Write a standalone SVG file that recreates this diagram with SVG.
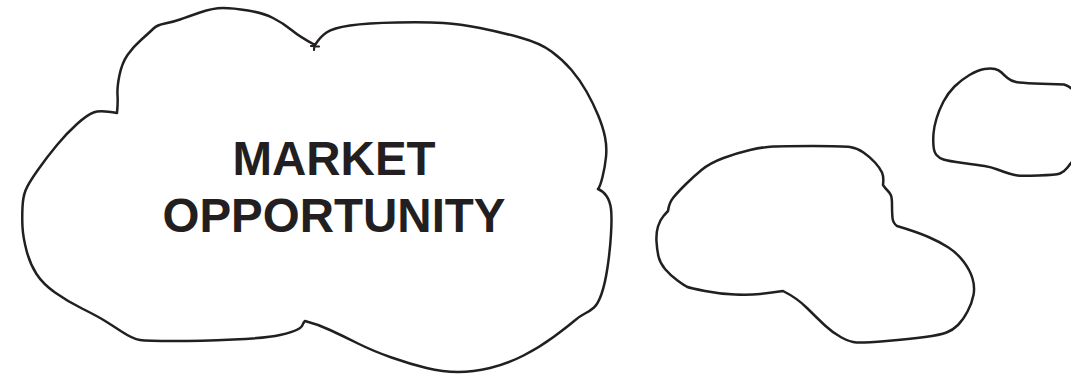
<svg xmlns="http://www.w3.org/2000/svg" width="1071" height="374" viewBox="0 0 1071 374">
  <style>
    .cloud { fill: #ffffff; stroke: #231f20; stroke-width: 2.5; stroke-linejoin: round; stroke-linecap: round; }
    .mark { fill: none; stroke: #231f20; stroke-width: 2.2; stroke-linecap: round; }
    .label { font-family: "Liberation Sans", Arial, Helvetica, sans-serif; font-weight: bold; font-size: 47.5px; fill: #231f20; text-anchor: middle; }
  </style>
  <rect width="1071" height="374" fill="#ffffff"/>

  <!-- large cloud with the label -->
  <g id="cloud-market">
    <path class="cloud" d="M117,113 Q118,103 117.5,95 Q117,87 119.5,75 Q122,63 127.5,55 Q133,47 141.5,39.5 Q150,32 153.5,28.5 Q157,25 165,23.5 Q173,22 180,19.5 Q187,17 200,12.5 Q213,8 223,8 Q233,8 248,10.5 Q263,13 273,18 Q283,23 291.5,30 Q300,37 315,45
      Q320,37 326.5,32.5 Q333,28 350,25.5 Q367,23 397,22.5 Q427,22 443.5,23 Q460,24 480,28 Q500,32 520,37.5 Q540,43 551.5,51.5 Q563,60 571.5,70 Q580,80 586.5,91.5 Q593,103 598,115 Q603,127 605,137 Q607,147 606,157 Q605,167 602.5,177 Q600,187 598,189
      Q603,191 606.5,196 Q610,201 611,209 Q612,217 611,234 Q610,251 607.5,267.5 Q605,284 601.5,294 Q598,304 594,307.5 Q590,311 585,313.5 Q580,316 573.5,321.5 Q567,327 553.5,337 Q540,347 523.5,355.5 Q507,364 490,368 Q473,372 458,372 Q443,372 426.5,368 Q410,364 391.5,357.5 Q373,351 358,343.5 Q343,336 330,330 Q317,324 305,321
      Q303,323 302.5,325 Q302,327 297.5,329.5 Q293,332 280,335 Q267,338 233.5,339.5 Q200,341 173.5,341 Q147,341 140,340 Q133,339 121.5,331.5 Q110,324 103.5,320 Q97,316 82,308.5 Q67,301 55,292.5 Q43,284 36.5,274 Q30,264 26.5,250.5 Q23,237 22.5,227 Q22,217 22.5,207 Q23,197 25.5,190.5 Q28,184 37.5,170.5 Q47,157 57,145 Q67,133 77,124 Q87,115 93.5,112.5 Q100,110 117,113 Z"/>
    <path class="mark" d="M314.5,44 L314,50 M311,46 L319,46.5"/>
    <text class="label" x="334" y="175">MARKET</text>
    <text class="label" x="334" y="232">OPPORTUNITY</text>
  </g>

  <!-- middle cloud -->
  <g id="cloud-middle">
    <path class="cloud" d="M668,211 Q669,203 673,198 Q677,193 685,185 Q693,177 701.5,170 Q710,163 723.5,158 Q737,153 750,150 Q763,147 773,146.5 Q783,146 813,146 Q843,146 850,147 Q857,148 863.5,152.5 Q870,157 875,162.5 Q880,168 882,172.5 Q884,177 883,185
      Q885,188 887.5,190.5 Q890,193 891,195.5 Q892,198 892,205.5 Q892,213 892.5,218 Q893,223 897,226
      Q917,232 928.5,237 Q940,242 948.5,247.5 Q957,253 963.5,261.5 Q970,270 972.5,278.5 Q975,287 973.5,295 Q972,303 967.5,311.5 Q963,320 958,325 Q953,330 946.5,332.5 Q940,335 925,337 Q910,339 886.5,341 Q863,343 856.5,342.5 Q850,342 841.5,337.5 Q833,333 825,325.5 Q817,318 807,308 Q797,298 783,291
      Q770,293 760,294 Q750,295 735,294.5 Q720,294 705,291 Q690,288 687.5,287 Q685,286 677.5,280.5 Q670,275 665,269 Q660,263 658.5,256.5 Q657,250 656.5,241.5 Q656,233 658,226.5 Q660,220 663.5,216 Q667,212 668,211 Z"/>
  </g>

  <!-- small cloud running off the right edge -->
  <g id="cloud-right">
    <path class="cloud" d="M1076,93 Q1070,86 1064,84.5 Q1048,84 1034.5,83.5 Q1021,83 1016,82 Q1011,81 1007.5,78 Q1004,75 1001.5,72.5 Q999,70 995,69 Q991,68 984.5,69 Q978,70 969.5,75 Q961,80 954.5,86.5 Q948,93 943.5,101.5 Q939,110 936.5,118.5 Q934,127 933.5,133.5 Q933,140 933.5,146 Q934,152 936.5,155 Q939,158 943.5,159.5 Q948,161 963,163 Q978,165 984.5,166 Q991,167 997.5,169.5 Q1004,172 1009,173.5 Q1014,175 1017.5,175.5 Q1021,176 1038.5,175.5 Q1056,175 1060,173.5 Q1064,172 1067.5,167.5 Q1071,163 1076,157 Z"/>
  </g>

  <g id="connectors"/>
</svg>
